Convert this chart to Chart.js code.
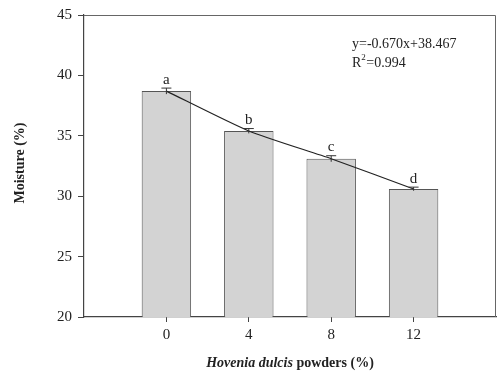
<!DOCTYPE html>
<html>
<head>
<meta charset="utf-8">
<script src="https://cdn.jsdelivr.net/npm/chart.js@4.4.1/dist/chart.umd.min.js"></script>
<style>
  html, body { margin: 0; padding: 0; background: #fff; }
  #wrap { width: 500px; height: 374px; }
</style>
</head>
<body>
<div id="wrap"><canvas id="moistureChart" width="500" height="374"></canvas></div>
<script>
const doses = [0, 4, 8, 12];
const moisture = [38.7, 35.4, 33.1, 30.6];
const errors = [0.25, 0.2, 0.25, 0.15];
const letters = ['a', 'b', 'c', 'd'];
const yTicks = [20, 25, 30, 35, 40, 45];
const equation = 'y=-0.670x+38.467';
const rSquared = '=0.994';

const serif = '"Liberation Serif", "DejaVu Serif", serif';

// error caps, letters, frame, equation and the mixed-style x title
const extras = {
    id: 'extras',
    afterDatasetsDraw(chart) {
        const { ctx, chartArea: a, scales: { x, y } } = chart;
        ctx.save();
        ctx.strokeStyle = '#333';
        ctx.lineWidth = 1;
        doses.forEach((d, i) => {
            const px = x.getPixelForValue(d);
            const top = y.getPixelForValue(moisture[i] + errors[i]);
            const bot = y.getPixelForValue(moisture[i] - errors[i]);
            ctx.beginPath();
            ctx.moveTo(px, top); ctx.lineTo(px, bot);
            ctx.moveTo(px - 5, top); ctx.lineTo(px + 5, top);
            ctx.stroke();
            ctx.fillStyle = '#222';
            ctx.font = '15px ' + serif;
            ctx.textAlign = 'center';
            ctx.textBaseline = 'bottom';
            ctx.fillText(letters[i], px, top - 1);
        });

        // frame on top and right
        ctx.strokeStyle = '#666';
        ctx.beginPath();
        ctx.moveTo(a.left, a.top + 0.5); ctx.lineTo(a.right - 0.5, a.top + 0.5);
        ctx.lineTo(a.right - 0.5, a.bottom);
        ctx.stroke();

        // regression text
        ctx.fillStyle = '#222';
        ctx.textAlign = 'left';
        ctx.textBaseline = 'alphabetic';
        ctx.font = '14px ' + serif;
        ctx.fillText(equation, 352, 48);
        ctx.fillText('R', 352, 67);
        const rw = ctx.measureText('R').width;
        ctx.font = '9px ' + serif;
        ctx.fillText('2', 352 + rw, 60);
        ctx.font = '14px ' + serif;
        ctx.fillText(rSquared, 352 + rw + 5, 67);

        // x title
        const part1 = 'Hovenia dulcis';
        const part2 = ' powders (%)';
        ctx.font = 'italic bold 14px ' + serif;
        const w1 = ctx.measureText(part1).width;
        ctx.font = 'bold 14px ' + serif;
        const w2 = ctx.measureText(part2).width;
        let sx = (a.left + a.right) / 2 - (w1 + w2) / 2;
        ctx.font = 'italic bold 14px ' + serif;
        ctx.fillText(part1, sx, 367);
        ctx.font = 'bold 14px ' + serif;
        ctx.fillText(part2, sx + w1, 367);

        // y title
        ctx.translate(24, 163);
        ctx.rotate(-Math.PI / 2);
        ctx.textAlign = 'center';
        ctx.fillText('Moisture (%)', 0, 0);
        ctx.restore();
    }
};

new Chart(document.getElementById('moistureChart'), {
    data: {
        datasets: [{
            type: 'line',
            data: doses.map((d, i) => ({ x: d, y: moisture[i] })),
            borderColor: '#222',
            borderWidth: 1.2,
            pointRadius: 0,
            tension: 0.2,
            fill: false,
            order: 0
        }, {
            type: 'bar',
            data: doses.map((d, i) => ({ x: d, y: moisture[i] })),
            backgroundColor: '#d3d3d3',
            borderColor: '#555',
            borderWidth: 1,
            barPercentage: 0.6,
            categoryPercentage: 1,
            order: 1
        }]
    },
    options: {
        responsive: false,
        animation: false,
        layout: { padding: { left: 0, top: 14, right: 1, bottom: 0 } },
        plugins: {
            legend: { display: false },
            tooltip: { enabled: false }
        },
        scales: {
            x: {
                type: 'linear',
                min: -4,
                max: 16,
                offset: false,
                afterBuildTicks: (s) => { s.ticks = [-4, 0, 4, 8, 12, 16].map(v => ({ value: v })); },
                afterFit: (s) => { s.height = 57; },
                ticks: {
                    color: '#222',
                    font: { family: serif, size: 15 },
                    padding: 4,
                    callback: (v) => doses.includes(v) ? String(v) : ''
                },
                grid: {
                    offset: false,
                    drawOnChartArea: false,
                    tickLength: 5,
                    color: (c) => c.tick && doses.includes(c.tick.value) ? '#444' : 'rgba(0,0,0,0)'
                },
                border: { display: true, color: '#444', width: 1.2 }
            },
            y: {
                min: 20,
                max: 45,
                afterBuildTicks: (s) => { s.ticks = yTicks.map(v => ({ value: v })); },
                afterFit: (s) => { s.width = 84; },
                ticks: {
                    color: '#222',
                    font: { family: serif, size: 15 },
                    padding: 6
                },
                grid: { drawOnChartArea: false, tickLength: 6, color: '#444' },
                border: { display: true, color: '#444', width: 1.2 }
            }
        }
    },
    plugins: [extras]
});
</script>
</body>
</html>
